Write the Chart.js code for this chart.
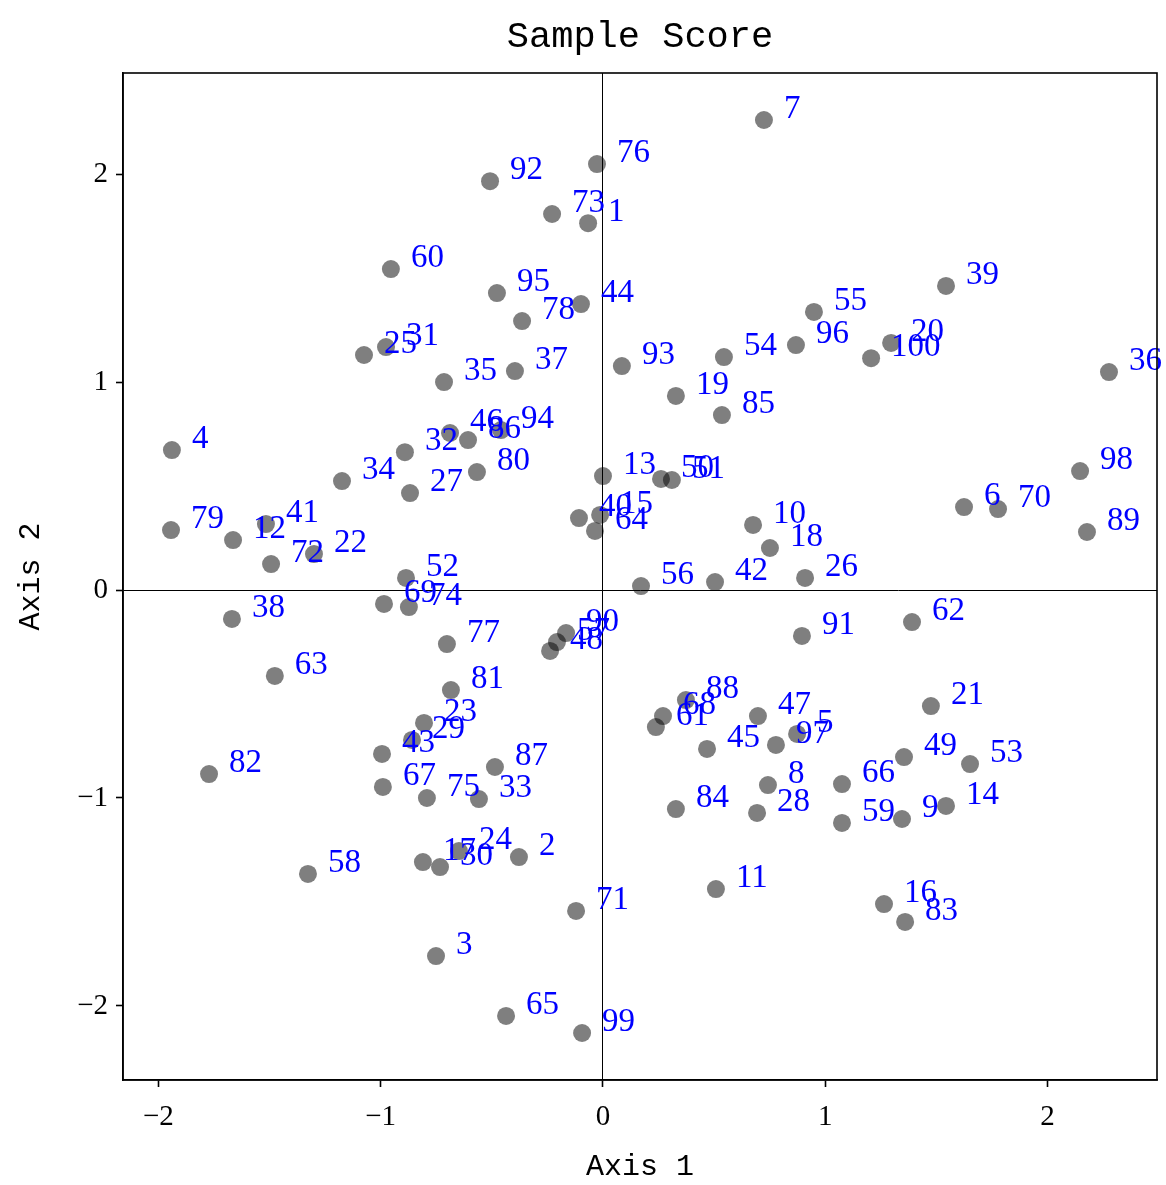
<!DOCTYPE html>
<html>
<head>
<meta charset="utf-8">
<script src="https://cdn.jsdelivr.net/npm/chart.js@4/dist/chart.umd.min.js"></script>
<style>
  body { margin: 0; background: #fff; }
</style>
</head>
<body>
<canvas id="chart" width="1166" height="1185"></canvas>
<script>
// sample scores, axis 1 (x) and axis 2 (y), samples numbered 1..100
const axis1 = [
    -0.067, -0.378, -0.751, -1.939, 0.873, 1.624, 0.724, 0.742, 1.345, 0.675,
    0.508, -1.664, 0.000, 1.543, -0.013, 1.264, -0.810, 0.751, 0.328, 1.296,
    1.475, -1.300, -0.805, -0.648, -1.075, 0.909, -0.868, 0.693, -0.859, -0.733,
    -0.976, -0.891, -0.558, -1.174, -0.715, 2.276, -0.396, -1.669, 1.543, -0.108,
    -1.516, 0.504, -0.994, -0.099, 0.468, -0.688, 0.697, -0.238, 1.354, 0.261,
    0.310, -0.886, 1.651, 0.544, 0.949, 0.171, -0.207, -1.327, 1.075, -0.954,
    0.238, 1.390, -1.476, -0.036, -0.436, 1.075, -0.990, 0.270, -0.985, 1.777,
    -0.121, -1.493, -0.229, -0.873, -0.792, -0.027, -0.702, -0.364, -1.943, -0.567,
    -0.684, -1.772, 1.359, 0.328, 0.535, -0.607, -0.486, 0.373, 2.177, -0.166,
    0.895, -0.508, 0.085, -0.459, -0.477, 0.868, 0.778, 2.146, -0.094, 1.206
];
const axis2 = [
    1.764, -1.284, -1.760, 0.673, -0.692, 0.399, 2.260, -0.938, -1.101, 0.313,
    -1.438, 0.240, 0.548, -1.038, 0.361, -1.510, -1.308, 0.202, 0.933, 1.188,
    -0.558, 0.173, -0.639, -1.255, 1.130, 0.058, 0.466, -1.072, -0.721, -1.332,
    1.168, 0.663, -1.005, 0.524, 1.000, 1.048, 1.053, -0.139, 1.462, 0.346,
    0.317, 0.038, -0.788, 1.375, -0.764, 0.755, -0.606, -0.293, -0.803, 0.534,
    0.529, 0.058, -0.837, 1.120, 1.337, 0.019, -0.250, -1.365, -1.120, 1.543,
    -0.659, -0.154, -0.413, 0.284, -2.048, -0.933, -0.947, -0.606, -0.067, 0.389,
    -1.543, 0.125, 1.808, -0.082, -1.000, 2.048, -0.260, 1.293, 0.288, 0.567,
    -0.481, -0.885, -1.596, -1.053, 0.841, 0.721, -0.851, -0.529, 0.279, -0.207,
    -0.221, 1.966, 1.077, 0.769, 1.428, 1.178, -0.745, 0.572, -2.130, 1.115
];
const sampleLabels = axis1.map((v, i) => String(i + 1));
const tickValues = [-2, -1, 0, 1, 2];
const chartTitle = 'Sample Score';

const points = axis1.map((x, i) => ({ x: x, y: axis2[i] }));

// sample numbers next to the points, the frame, and the title centred on the plot
const sampleLabelPlugin = {
    id: 'sampleLabels',
    afterDatasetsDraw(chart) {
        const ctx = chart.ctx;
        const xs = chart.scales.x;
        const ys = chart.scales.y;
        ctx.save();
        ctx.fillStyle = '#0000ff';
        ctx.font = '33px "Liberation Serif", serif';
        ctx.textAlign = 'left';
        ctx.textBaseline = 'alphabetic';
        points.forEach((p, i) => {
            ctx.fillText(sampleLabels[i], xs.getPixelForValue(p.x + 0.09), ys.getPixelForValue(p.y + 0.01));
        });
        ctx.restore();
    },
    afterDraw(chart) {
        const a = chart.chartArea;
        const ctx = chart.ctx;
        ctx.save();
        ctx.strokeStyle = '#000';
        ctx.lineWidth = 1.6;
        ctx.strokeRect(a.left, a.top, a.right - a.left, a.bottom - a.top);

        ctx.fillStyle = '#000';
        ctx.font = '37px "Liberation Mono", monospace';
        ctx.textAlign = 'center';
        ctx.textBaseline = 'middle';
        ctx.fillText(chartTitle, (a.left + a.right) / 2, 37);
        ctx.restore();
    }
};

const axisFont = { family: '"Liberation Mono", monospace', size: 30 };
const tickFont = { family: '"Liberation Serif", serif', size: 29 };

function zeroLine(ctx) {
    return ctx.tick && ctx.tick.value === 0 ? '#000' : 'rgba(0,0,0,0)';
}

new Chart(document.getElementById('chart'), {
    type: 'scatter',
    data: {
        datasets: [{
            label: chartTitle,
            data: points,
            backgroundColor: 'rgba(0, 0, 0, 0.5)',
            borderWidth: 0,
            pointRadius: 9,
            pointHoverRadius: 9
        }]
    },
    options: {
        responsive: false,
        animation: false,
        layout: { padding: { top: 73, right: 9 } },
        plugins: {
            legend: { display: false },
            tooltip: { enabled: false },
            title: { display: false }
        },
        scales: {
            x: {
                type: 'linear',
                min: -2.159,
                max: 2.492,
                afterBuildTicks: (scale) => { scale.ticks = tickValues.map(v => ({ value: v })); },
                afterFit: (scale) => { scale.height = 105; },
                ticks: {
                    color: '#000',
                    font: tickFont,
                    padding: 13,
                    maxRotation: 0,
                    callback: (v) => String(v).replace('-', '\u2212')
                },
                grid: { color: zeroLine, lineWidth: 1, tickColor: '#000', tickLength: 7, tickWidth: 1.6 },
                border: { display: true, color: '#000', width: 1.6 },
                title: { display: true, text: 'Axis 1', color: '#000', font: axisFont, padding: { top: 0, bottom: 0 } }
            },
            y: {
                type: 'linear',
                min: -2.356,
                max: 2.486,
                afterBuildTicks: (scale) => { scale.ticks = tickValues.map(v => ({ value: v })); },
                afterFit: (scale) => { scale.width = 123; },
                ticks: {
                    color: '#000',
                    font: tickFont,
                    padding: 8,
                    callback: (v) => String(v).replace('-', '\u2212')
                },
                grid: { color: zeroLine, lineWidth: 1, tickColor: '#000', tickLength: 7, tickWidth: 1.6 },
                border: { display: true, color: '#000', width: 1.6 },
                title: { display: true, text: 'Axis 2', color: '#000', font: axisFont, padding: { top: 13, bottom: 0 } }
            }
        }
    },
    plugins: [sampleLabelPlugin]
});
</script>
</body>
</html>
